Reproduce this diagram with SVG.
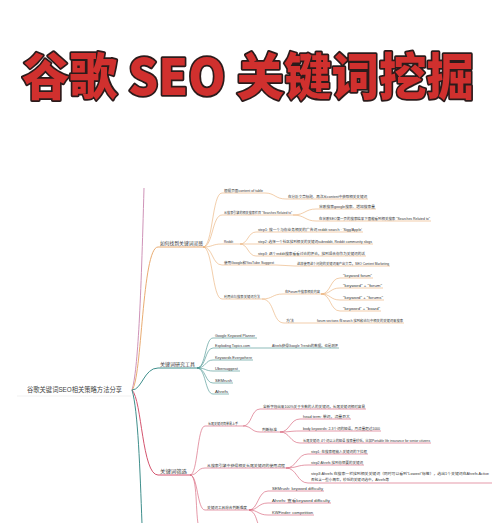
<svg xmlns="http://www.w3.org/2000/svg" width="500" height="523" viewBox="0 0 500 523">
<style>
.title{font-family:"Noto Sans CJK SC",sans-serif;font-weight:900;font-size:50px;fill:#d0302e;stroke:#2b1b1b;stroke-width:3.5px;paint-order:stroke;stroke-linejoin:round}
.root{font-family:"Liberation Sans","Noto Sans CJK SC",sans-serif;font-size:6.5px;fill:#444}
.br{font-family:"Liberation Sans","Noto Sans CJK SC",sans-serif;font-size:5px;fill:#333}
.t{font-family:"Liberation Sans","Noto Sans CJK SC",sans-serif;font-size:3.6px;fill:#333}
.o{stroke:#e9ac72;fill:none}
.g{stroke:#3f8f8c;fill:none}
.r{stroke:#d4556f;fill:none}
.p{stroke:#cf93b8;fill:none}
.m{stroke-width:1}
.s{stroke-width:0.6}
</style>
<rect width="500" height="523" fill="#fff"/>
<text class="title" x="248" y="95" text-anchor="middle" textLength="452" lengthAdjust="spacingAndGlyphs">谷歌 SEO 关键词挖掘</text>

<g id="connectors">
  <path class="p m" d="M132,390 C138,370 141,300 144,188"/>
  <path class="o m" d="M132,390 C142,380 142,247 158,247"/>
  <path class="g m" d="M132,390 C142,390 144,368 158,368"/>
  <path class="r m" d="M132,390 C142,400 142,475 158,475"/>
  <path class="g m" d="M132,390 C138,410 140,470 142,524"/>
  <path class="o s" d="M203,247 C213,247 212,193 222,193"/>
  <path class="o s" d="M203,247 C213,247 212,215 222,215"/>
  <path class="o s" d="M203,247 C213,247 212,244 222,244"/>
  <path class="o s" d="M203,247 C213,247 212,265 222,265"/>
  <path class="o s" d="M203,247 C213,247 212,299 222,299"/>
  <path class="o s" d="M265,193 C275,193 275,199 286,199"/>
  <path class="o s" d="M293,215 C305,215 305,209 316,209"/>
  <path class="o s" d="M293,215 C305,215 305,221 316,221"/>
  <path class="o s" d="M240,244 C248,244 248,232 256,232"/>
  <path class="o s" d="M240,244 L256,244"/>
  <path class="o s" d="M240,244 C248,244 248,256 256,256"/>
  <path class="o s" d="M276,265 L295,266"/>
  <path class="o s" d="M262,299 C273,299 272,294 283,294"/>
  <path class="o s" d="M262,299 C275,299 272,323 284,323"/>
  <path class="o s" d="M321,294 C331,294 330,278 340,278"/>
  <path class="o s" d="M321,294 C331,294 330,288 340,288"/>
  <path class="o s" d="M321,294 C331,294 330,300 340,300"/>
  <path class="o s" d="M321,294 C331,294 330,311 340,311"/>
  <path class="o s" d="M295,323 L315,323"/>
  <path class="g s" d="M197,368 C206,368 205,338 213,338"/>
  <path class="g s" d="M197,368 C206,368 205,348 213,348"/>
  <path class="g s" d="M197,368 C206,368 205,360 213,360"/>
  <path class="g s" d="M197,368 C206,368 205,371 213,371"/>
  <path class="g s" d="M197,368 C206,368 205,383 213,383"/>
  <path class="g s" d="M197,368 C206,368 205,394 213,394"/>
  <path class="g s" d="M251,348 L270,348"/>
  <path class="r s" d="M190,475 C198,475 197,426 205,426"/>
  <path class="r s" d="M190,475 C198,475 197,468 205,468"/>
  <path class="r s" d="M190,475 C198,475 197,510 205,510"/>
  <path class="r s" d="M190,475 C198,475 195,515 199,528"/>
  <path class="r s" d="M243,426 C252,426 251,409 260,409"/>
  <path class="r s" d="M243,426 C252,426 251,432 260,432"/>
  <path class="r s" d="M280,432 C290,432 290,419 300,419"/>
  <path class="r s" d="M280,432 C290,432 290,431 300,431"/>
  <path class="r s" d="M280,432 C290,432 290,443 300,443"/>
  <path class="r s" d="M286,468 C297,468 297,454 308,454"/>
  <path class="r s" d="M286,468 C297,468 297,465 308,465"/>
  <path class="r s" d="M286,468 C297,468 297,483 308,483"/>
  <path class="r s" d="M249,510 C258,510 258,491 268,491"/>
  <path class="r s" d="M249,510 C258,510 258,503 268,503"/>
  <path class="r s" d="M249,510 C258,510 258,515 268,515"/>
  <path class="r s" d="M249,510 C256,512 256,520 259,526"/>
</g>

<g id="root">
  <line x1="17" y1="396" x2="131" y2="396" stroke="#eeeeee" stroke-width="0.8"/>
  <text class="root" x="27" y="391.5" textLength="95" lengthAdjust="spacingAndGlyphs">谷歌关键词SEO相关策略方法分享</text>
</g>

<g id="b1">
  <line class="o m" x1="158" y1="247" x2="203" y2="247"/>
  <text class="br" x="160" y="245" textLength="43" lengthAdjust="spacingAndGlyphs">如何找到关键词灵感</text>
</g>
<g id="b1c1"><line class="o s" x1="222" y1="193" x2="265" y2="193"/><text class="t" x="224" y="191.8" textLength="39" lengthAdjust="spacingAndGlyphs">根据页面content of table</text></g>
<g id="b1c1a"><line class="o s" x1="286" y1="199" x2="368" y2="199"/><text class="t" x="288" y="197.8" textLength="79" lengthAdjust="spacingAndGlyphs">在分析文章标题、再次从content中获取相关关键词</text></g>
<g id="b1c2"><line class="o s" x1="222" y1="215" x2="293" y2="215"/><text class="t" x="224" y="213.8" textLength="68" lengthAdjust="spacingAndGlyphs">从搜索引擎的相关搜索栏目 "Searches Related to"</text></g>
<g id="b1c2a"><line class="o s" x1="316" y1="209" x2="376" y2="209"/><text class="t" x="319" y="207.8" textLength="56" lengthAdjust="spacingAndGlyphs">谷歌搜索google搜索、增加搜索量</text></g>
<g id="b1c2b"><line class="o s" x1="316" y1="221" x2="431" y2="221"/><text class="t" x="319" y="219.8" textLength="111" lengthAdjust="spacingAndGlyphs">在谷歌SEO第一页的搜索结果下面能看到相关搜索 "Searches Related to"</text></g>
<g id="b1c3"><line class="o s" x1="222" y1="244" x2="240" y2="244"/><text class="t" x="224" y="242.8" textLength="9" lengthAdjust="spacingAndGlyphs">Reddit</text></g>
<g id="b1c3a"><line class="o s" x1="256" y1="232" x2="363" y2="232"/><text class="t" x="258" y="230.8" textLength="104" lengthAdjust="spacingAndGlyphs">step1: 搜一个与你业务相关的广告词 reddit search · 'Sigg/Apple'</text></g>
<g id="b1c3b"><line class="o s" x1="256" y1="244" x2="373" y2="244"/><text class="t" x="258" y="242.8" textLength="114" lengthAdjust="spacingAndGlyphs">step2: 选择一个社区找到相关的关键词subreddit, Reddit community slogs</text></g>
<g id="b1c3c"><line class="o s" x1="256" y1="256" x2="366" y2="256"/><text class="t" x="258" y="254.8" textLength="107" lengthAdjust="spacingAndGlyphs">step3: 逐个reddit搜索看看讨论的评论，找到适合你作为关键词的话</text></g>
<g id="b1c4"><line class="o s" x1="222" y1="265" x2="276" y2="265"/><text class="t" x="224" y="263.8" textLength="50" lengthAdjust="spacingAndGlyphs">使用Google和YouTube Suggest</text></g>
<g id="b1c4a"><line class="o s" x1="295" y1="266" x2="390" y2="266"/><text class="t" x="297" y="264.8" textLength="92" lengthAdjust="spacingAndGlyphs">这样使用这个问题的关键词来产出文章，SEO Content Marketing</text></g>
<g id="b1c5"><line class="o s" x1="222" y1="299" x2="262" y2="299"/><text class="t" x="224" y="297.8" textLength="36" lengthAdjust="spacingAndGlyphs">利用论坛搜索关键词方法</text></g>
<g id="b1c5a"><line class="o s" x1="283" y1="294" x2="321" y2="294"/><text class="t" x="285" y="292.8" textLength="35" lengthAdjust="spacingAndGlyphs">在Forum中搜索相关内容</text></g>
<g id="b1c5a1"><line class="o s" x1="340" y1="278" x2="373" y2="278"/><text class="t" x="343" y="276.8" textLength="29" lengthAdjust="spacingAndGlyphs">"keyword forum"</text></g>
<g id="b1c5a2"><line class="o s" x1="340" y1="288" x2="383" y2="288"/><text class="t" x="343" y="286.8" textLength="39" lengthAdjust="spacingAndGlyphs">"keyword"  +  "forum"</text></g>
<g id="b1c5a3"><line class="o s" x1="340" y1="300" x2="384" y2="300"/><text class="t" x="343" y="298.8" textLength="40" lengthAdjust="spacingAndGlyphs">"keyword"  +  "forums"</text></g>
<g id="b1c5a4"><line class="o s" x1="340" y1="311" x2="381" y2="311"/><text class="t" x="343" y="309.8" textLength="37" lengthAdjust="spacingAndGlyphs">"keyword"  +  "board"</text></g>
<g id="b1c5b"><line class="o s" x1="284" y1="323" x2="295" y2="323"/><text class="t" x="286" y="321.8" textLength="8" lengthAdjust="spacingAndGlyphs">方法</text></g>
<g id="b1c5b1"><line class="o s" x1="315" y1="323" x2="404" y2="323"/><text class="t" x="317" y="321.8" textLength="86" lengthAdjust="spacingAndGlyphs">forum sections 在search 找到和论坛中相关的关键词来搜索</text></g>

<g id="b2">
  <line class="g m" x1="158" y1="368" x2="197" y2="368"/>
  <text class="br" x="160" y="366" textLength="35" lengthAdjust="spacingAndGlyphs">关键词研究工具</text>
</g>
<g id="b2c1"><line class="g s" x1="213" y1="338" x2="257" y2="338"/><text class="t" x="215" y="336.8" textLength="40" lengthAdjust="spacingAndGlyphs">Google Keyword Planner</text></g>
<g id="b2c2"><line class="g s" x1="213" y1="348" x2="251" y2="348"/><text class="t" x="215" y="346.8" textLength="35" lengthAdjust="spacingAndGlyphs">Exploding Topics.com</text></g>
<g id="b2c2a"><line class="g s" x1="270" y1="348" x2="339" y2="348"/><text class="t" x="272" y="346.8" textLength="66" lengthAdjust="spacingAndGlyphs">Ahrefs获得Google Trends的数据，也是测评</text></g>
<g id="b2c3"><line class="g s" x1="213" y1="360" x2="253" y2="360"/><text class="t" x="215" y="358.8" textLength="37" lengthAdjust="spacingAndGlyphs">Keywords Everywhere</text></g>
<g id="b2c4"><line class="g s" x1="213" y1="371" x2="240" y2="371"/><text class="t" x="215" y="369.8" textLength="23" lengthAdjust="spacingAndGlyphs">Ubersuggest</text></g>
<g id="b2c5"><line class="g s" x1="213" y1="383" x2="233" y2="383"/><text class="t" x="215" y="381.8" textLength="17" lengthAdjust="spacingAndGlyphs">SEMrush</text></g>
<g id="b2c6"><line class="g s" x1="213" y1="394" x2="229" y2="394"/><text class="t" x="215" y="392.8" textLength="13" lengthAdjust="spacingAndGlyphs">Ahrefs</text></g>

<g id="b3">
  <line class="r m" x1="158" y1="475" x2="190" y2="475"/>
  <text class="br" x="160" y="473" textLength="27" lengthAdjust="spacingAndGlyphs">关键词筛选</text>
</g>
<g id="b3c1"><line class="r s" x1="205" y1="426" x2="243" y2="426"/><text class="t" x="208" y="424.8" textLength="30" lengthAdjust="spacingAndGlyphs">长尾关键词简单易上手</text></g>
<g id="b3c1a"><line class="r s" x1="260" y1="409" x2="366" y2="409"/><text class="t" x="263" y="407.8" textLength="102" lengthAdjust="spacingAndGlyphs">全新字段出来100%关于多数的人的关键词，长尾关键词相对容易</text></g>
<g id="b3c1b"><line class="r s" x1="260" y1="432" x2="280" y2="432"/><text class="t" x="262" y="430.8" textLength="15" lengthAdjust="spacingAndGlyphs">判断标准</text></g>
<g id="b3c1b1"><line class="r s" x1="300" y1="419" x2="351" y2="419"/><text class="t" x="303" y="417.8" textLength="47" lengthAdjust="spacingAndGlyphs">head term: 单词，流量巨大</text></g>
<g id="b3c1b2"><line class="r s" x1="300" y1="431" x2="381" y2="431"/><text class="t" x="303" y="429.8" textLength="77" lengthAdjust="spacingAndGlyphs">body keywords: 2-3个词的短语，月流量超过1000</text></g>
<g id="b3c1b3"><line class="r s" x1="300" y1="443" x2="431" y2="443"/><text class="t" x="303" y="441.8" textLength="127" lengthAdjust="spacingAndGlyphs">长尾关键词: 4个词以上的短语 搜索量较低，比如Portable life insurance for senior citizens</text></g>
<g id="b3c2"><line class="r s" x1="205" y1="468" x2="286" y2="468"/><text class="t" x="207" y="466.8" textLength="78" lengthAdjust="spacingAndGlyphs">从搜索引擎中获得相关长尾关键词的使用流程</text></g>
<g id="b3c2a"><line class="r s" x1="308" y1="454" x2="368" y2="454"/><text class="t" x="311" y="452.8" textLength="56" lengthAdjust="spacingAndGlyphs">step1: 在搜索框输入关键词的下拉框</text></g>
<g id="b3c2b"><line class="r s" x1="308" y1="465" x2="364" y2="465"/><text class="t" x="311" y="463.8" textLength="52" lengthAdjust="spacingAndGlyphs">step2:Ahrefs 找到你想要的关键词</text></g>
<g id="b3c2c"><line class="r s" x1="308" y1="483" x2="492" y2="483"/><text class="t" x="311" y="475.3" textLength="178" lengthAdjust="spacingAndGlyphs">step3:Ahrefs 在搜索一栏找到相关关键词（同时可以看到"Lowest"标签），选出1个关键词在Ahrefs Active</text><text class="t" x="311" y="481" textLength="78" lengthAdjust="spacingAndGlyphs">否包含一些小概率，较低的关键词选中，Ahrefs等</text></g>
<g id="b3c3"><line class="r s" x1="205" y1="510" x2="249" y2="510"/><text class="t" x="207" y="508.8" textLength="40" lengthAdjust="spacingAndGlyphs">关键词工具综合判断难度</text></g>
<g id="b3c3a"><line class="r s" x1="268" y1="491" x2="324" y2="491"/><text class="t" x="272" y="489.8" textLength="51" lengthAdjust="spacingAndGlyphs">SEMrush:  keyword difficulty</text></g>
<g id="b3c3b"><line class="r s" x1="268" y1="503" x2="331" y2="503"/><text class="t" x="272" y="501.8" textLength="58" lengthAdjust="spacingAndGlyphs">Ahrefs:  查看keyword difficulty</text></g>
<g id="b3c3c"><line class="r s" x1="268" y1="515" x2="314" y2="515"/><text class="t" x="272" y="513.8" textLength="41" lengthAdjust="spacingAndGlyphs">KWFinder:  competition</text></g>
</svg>
